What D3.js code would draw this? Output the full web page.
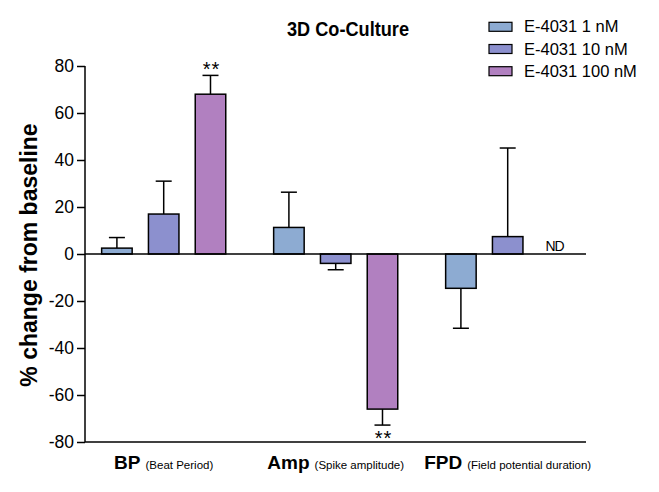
<!DOCTYPE html>
<html>
<head>
<meta charset="utf-8">
<script src="https://cdn.jsdelivr.net/npm/d3@7"></script>
<style>
  html, body { margin: 0; padding: 0; background: #fff; }
  svg { display: block; font-family: Arial, "Liberation Sans", Helvetica, sans-serif; }
</style>
</head>
<body>
<svg id="chart" width="659" height="492"></svg>
<script>
// ---- data ----
const categories = ["BP", "Amp", "FPD"];
const categoryNotes = ["(Beat Period)", "(Spike amplitude)", "(Field potential duration)"];
const seriesNames = ["E-4031 1 nM", "E-4031 10 nM", "E-4031 100 nM"];
const means1nM = [2.5, 11.3, -14.6];
const means10nM = [17, -4, 7.4];
const means100nM = [68, -66, null];
const err1nM = [4.5, 15, 17];
const err10nM = [14, 2.7, 37.7];
const err100nM = [8, 6.8, null];
const marks100nM = ["**", "**", "ND"];
const yTicks = [-80, -60, -40, -20, 0, 20, 40, 60, 80];
const title = "3D Co-Culture";
const yTitle = "% change from baseline";
const colors = ["#8dabd2", "#8c90ce", "#b180c0"];

const means = [means1nM, means10nM, means100nM];
const errs = [err1nM, err10nM, err100nM];
const marks = [["", "", ""], ["", "", ""], marks100nM];

const svg = d3.select("#chart");

const plotLeft = 85, plotRight = 586;
const y = d3.scaleLinear().domain([-80, 80]).range([442, 66]);
const x0 = d3.scaleBand().domain(categories).range([77.7, 593.7]).padding(0);
const x1 = d3.scaleBand().domain(seriesNames).range([-62.05, 62.05]).paddingInner(0.348).paddingOuter(0);

// title
svg.append("text")
  .attr("x", 348).attr("y", 36)
  .attr("text-anchor", "middle")
  .attr("font-weight", "bold").attr("font-size", 21)
  .attr("textLength", 122).attr("lengthAdjust", "spacingAndGlyphs")
  .text(title);

// y axis
const yAxis = d3.axisLeft(y).tickValues(yTicks).tickSize(8).tickPadding(3).tickFormat(d => String(d));
const gy = svg.append("g").attr("transform", `translate(${plotLeft},0)`).call(yAxis);
gy.select(".domain").attr("stroke", "#000").attr("stroke-width", 1.5).attr("d", `M0,${y(80)}V${y(-80)}`);
gy.selectAll(".tick line").attr("stroke", "#000").attr("stroke-width", 1.5);
gy.selectAll(".tick text").attr("font-size", 17.5).attr("fill", "#000").attr("font-family", "Arial, 'Liberation Sans', sans-serif");

// y title
svg.append("text")
  .attr("transform", `translate(37,255) rotate(-90)`)
  .attr("text-anchor", "middle")
  .attr("font-weight", "bold").attr("font-size", 23)
  .text(yTitle);

// bottom axis line
svg.append("line").attr("x1", plotLeft).attr("x2", plotRight)
  .attr("y1", y(-80)).attr("y2", y(-80)).attr("stroke", "#000").attr("stroke-width", 1.5);

// bars
const bars = [];
seriesNames.forEach((s, si) => {
  categories.forEach((c, ci) => {
    bars.push({ s, si, c, ci, v: means[si][ci], e: errs[si][ci], m: marks[si][ci] });
  });
});

const groups = svg.append("g");
const bx = d => x0(d.c) + x0.bandwidth() / 2 + x1(d.s);
const valid = bars.filter(d => d.v !== null);

const capW = 16;
valid.forEach(d => {
  const cx = bx(d) + x1.bandwidth() / 2;
  const endV = d.v >= 0 ? d.v + d.e : d.v - d.e;
  groups.append("line").attr("x1", cx).attr("x2", cx)
    .attr("y1", y(d.v)).attr("y2", y(endV)).attr("stroke", "#000").attr("stroke-width", 1.5);
  groups.append("line").attr("x1", cx - capW / 2).attr("x2", cx + capW / 2)
    .attr("y1", y(endV)).attr("y2", y(endV)).attr("stroke", "#000").attr("stroke-width", 1.5);
  if (d.m) {
    groups.append("text")
      .attr("x", cx + 1).attr("y", d.v >= 0 ? y(endV) + 1 : y(endV) + 20)
      .attr("text-anchor", "middle").attr("font-size", 20).attr("letter-spacing", 1)
      .text(d.m);
  }
});

groups.selectAll("rect").data(valid).join("rect")
  .attr("x", d => bx(d))
  .attr("width", x1.bandwidth())
  .attr("y", d => Math.min(y(d.v), y(0)))
  .attr("height", d => Math.abs(y(d.v) - y(0)))
  .attr("fill", d => colors[d.si])
  .attr("stroke", "#000").attr("stroke-width", 1.5);

// ND marks
bars.filter(d => d.v === null && d.m).forEach(d => {
  const cx = bx(d) + x1.bandwidth() / 2;
  groups.append("text").attr("x", cx).attr("y", y(0) - 3.5)
    .attr("text-anchor", "middle").attr("font-size", 14).attr("letter-spacing", -1)
    .text(d.m);
});

// zero line
svg.append("line").attr("x1", plotLeft).attr("x2", plotRight)
  .attr("y1", y(0)).attr("y2", y(0)).attr("stroke", "#000").attr("stroke-width", 1.5);

// category labels
categories.forEach((c, ci) => {
  const t = svg.append("text")
    .attr("x", x0(c) + x0.bandwidth() / 2).attr("y", 469)
    .attr("text-anchor", "middle");
  t.append("tspan").attr("font-weight", "bold").attr("font-size", 19).text(c);
  t.append("tspan").attr("font-size", 11.5).attr("dx", 5).text(categoryNotes[ci]);
});

// legend
const legend = svg.append("g").attr("transform", "translate(489,22.3)");
seriesNames.forEach((s, i) => {
  const g = legend.append("g").attr("transform", `translate(0,${i * 22.2})`);
  g.append("rect").attr("width", 23).attr("height", 9)
    .attr("fill", colors[i]).attr("stroke", "#000").attr("stroke-width", 1.2);
  g.append("text").attr("x", 35).attr("y", 10).attr("font-size", 16.5).text(s);
});
</script>
</body>
</html>
